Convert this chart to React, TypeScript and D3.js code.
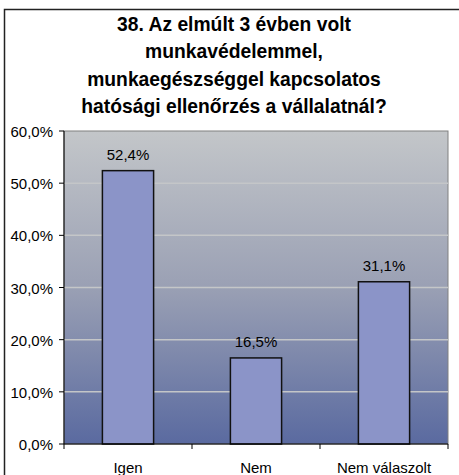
import React from "react";
import * as d3 from "d3";

const categories = ["Igen", "Nem", "Nem válaszolt"];
const values = [52.4, 16.5, 31.1];
const yTicks = [0, 10, 20, 30, 40, 50, 60];
const titleLines = [
  "38. Az elmúlt 3 évben volt",
  "munkavédelemmel,",
  "munkaegészséggel kapcsolatos",
  "hatósági ellenőrzés a vállalatnál?",
];

const fmt = (v: number) => v.toFixed(1).replace(".", ",") + "%";

export default function App() {
  const W = 459, H = 475;
  const left = 64, right = 448, top = 131, bottom = 444;
  const x = d3.scaleBand<string>().domain(categories).range([left, right]).paddingInner(0.6).paddingOuter(0.3);
  const y = d3.scaleLinear().domain([0, 60]).range([bottom, top]);
  const band = d3.scaleBand<string>().domain(categories).range([left, right]);
  const font = "'Liberation Sans', Arial, sans-serif";
  return (
    <svg width={W} height={H} style={{ position: "absolute", left: 0, top: 0 }}>
      <defs>
        <linearGradient id="bg" x1="0" y1="0" x2="0" y2="1">
          <stop offset="0" stopColor="#c3c6c9" />
          <stop offset="0.5" stopColor="#9aa0b4" />
          <stop offset="1" stopColor="#5a6aa0" />
        </linearGradient>
      </defs>
      <rect x={0} y={0} width={W} height={H} fill="#fff" />
      <rect x={4.5} y={9.5} width={W} height={H} fill="#fff" stroke="#222" strokeWidth={1.5} />
      {titleLines.map((t, i) => (
        <text key={i} x={234} y={31 + i * 27.3} textAnchor="middle" fontFamily={font} fontWeight="bold" fontSize={19.3} fill="#000">
          {t}
        </text>
      ))}
      <rect x={left} y={top} width={right - left} height={bottom - top} fill="url(#bg)" stroke="#808080" strokeWidth={1} />
      {yTicks.slice(1, -1).map((t) => (
        <line key={t} x1={left} x2={right} y1={y(t)} y2={y(t)} stroke="#c4c6c8" strokeWidth={1.5} />
      ))}
      {categories.map((c, i) => (
        <g key={c}>
          <rect x={x(c)!} y={y(values[i])} width={x.bandwidth()} height={bottom - y(values[i])} fill="#8b94c8" stroke="#111" strokeWidth={1.5} />
          <text x={x(c)! + x.bandwidth() / 2} y={y(values[i]) - 11} textAnchor="middle" fontFamily={font} fontSize={15} fill="#000">
            {fmt(values[i])}
          </text>
          <text x={band(c)! + band.bandwidth() / 2} y={473} textAnchor="middle" fontFamily={font} fontSize={15} fill="#000">
            {c}
          </text>
        </g>
      ))}
      <line x1={left} x2={left} y1={top} y2={bottom} stroke="#000" />
      <line x1={left} x2={right} y1={bottom} y2={bottom} stroke="#000" />
      {yTicks.map((t) => (
        <g key={t}>
          <line x1={left - 5} x2={left} y1={y(t)} y2={y(t)} stroke="#000" />
          <text x={53} y={y(t) + 6} textAnchor="end" fontFamily={font} fontSize={15} fill="#000">
            {fmt(t)}
          </text>
        </g>
      ))}
      {[...categories.map((c) => band(c)!), right].map((v, i) => (
        <line key={i} x1={v} x2={v} y1={bottom} y2={bottom + 5} stroke="#000" />
      ))}
    </svg>
  );
}
